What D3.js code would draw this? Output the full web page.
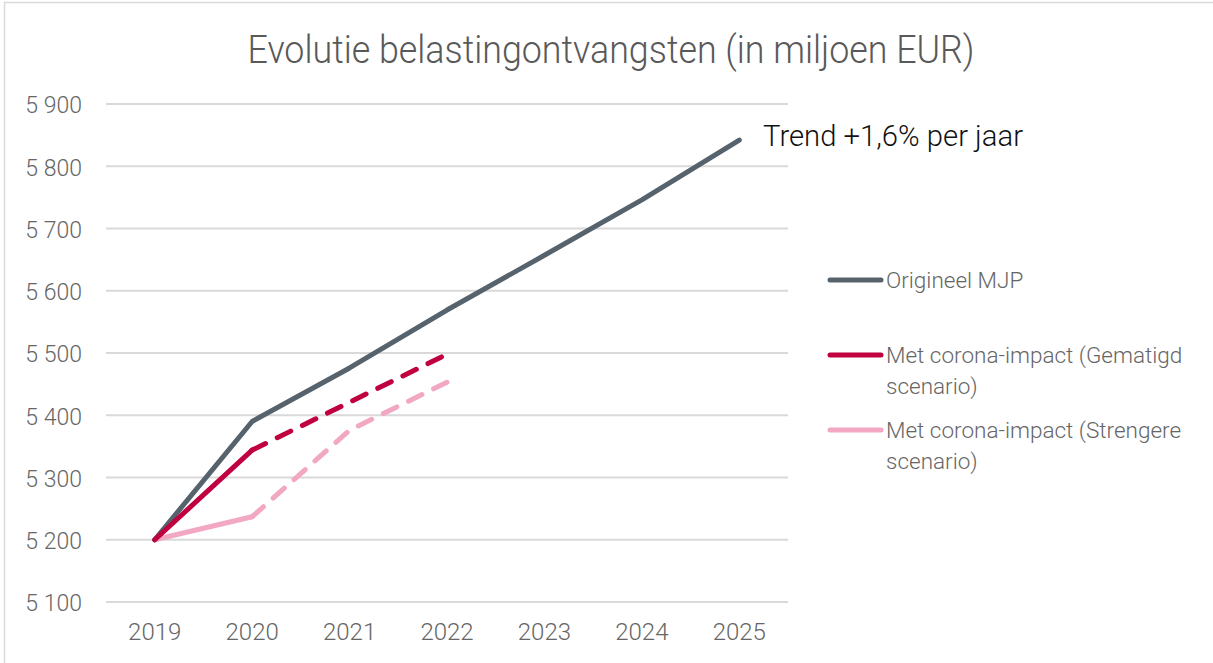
<!DOCTYPE html>
<html><head><meta charset="utf-8">
<script src="https://cdn.jsdelivr.net/npm/d3@7"></script>
<style>
html,body{margin:0;padding:0;background:#fff;}
svg{display:block;font-family:Roboto, "Open Sans", sans-serif;}
</style></head>
<body>
<svg id="chart" width="1213" height="663"></svg>
<script>
const years = ["2019","2020","2021","2022","2023","2024","2025"];
const yTicks = [5100,5200,5300,5400,5500,5600,5700,5800,5900];
const origineel = [5200,5390,5476,5569,5657,5746,5842];
const gematigd = [5200,5344,5421,5498];
const strengere = [5200,5237,5376,5453];
const seriesNames = ["Origineel MJP","Met corona-impact (Gematigd|scenario)","Met corona-impact (Strengere|scenario)"];
const seriesColors = ["#56626c","#c0003f","#f2a7c3"];
const title = "Evolutie belastingontvangsten (in miljoen EUR)";
const annotation = "Trend +1,6% per jaar";

const svg = d3.select("#chart");
// frame
svg.append("rect").attr("x",4.5).attr("y",2.5).attr("width",1230).attr("height",680)
  .attr("fill","none").attr("stroke","#d9d9d9").attr("stroke-width",1.5);

const x = d3.scaleBand().domain(years).range([106,788]);
const y = d3.scaleLinear().domain([5100,5900]).range([602,104]);

// gridlines
svg.append("g").selectAll("line").data(yTicks).join("line")
  .attr("x1",106).attr("x2",788).attr("y1",d=>y(d)).attr("y2",d=>y(d))
  .attr("stroke","#d9d9d9").attr("stroke-width",2);

// y axis
const fmt = d => d3.format(",")(d).replace(",", " ");
const yAxis = d3.axisLeft(y).tickValues(yTicks).tickFormat(fmt).tickSize(0).tickPadding(0);
const yg = svg.append("g").attr("transform","translate(82,0)").call(yAxis);
yg.select(".domain").remove();
yg.selectAll("text").attr("fill","#666").attr("font-size",23).attr("font-weight",300)
  .attr("font-family","Roboto, sans-serif").attr("dy","0.38em");

// x axis
const xAxis = d3.axisBottom(x).tickSize(0).tickPadding(0);
const xg = svg.append("g").attr("transform","translate(0,623)").call(xAxis);
xg.select(".domain").remove();
xg.selectAll("text").attr("fill","#666").attr("font-size",24).attr("font-weight",300)
  .attr("font-family","Roboto, sans-serif").attr("dy","0.71em");

const cx = d => x(d) + x.bandwidth()/2;
const line = d3.line().x(d=>cx(d[0])).y(d=>y(d[1]));

function seg(vals, i0, i1){ return d3.range(i0,i1+1).map(i=>[years[i],vals[i]]); }

const lw = 5;
// strengere
svg.append("path").attr("d",line(seg(strengere,0,1))).attr("fill","none").attr("stroke",seriesColors[2])
  .attr("stroke-width",lw).attr("stroke-linecap","round").attr("stroke-linejoin","round");
svg.append("path").attr("d",line(seg(strengere,1,3))).attr("fill","none").attr("stroke",seriesColors[2])
  .attr("stroke-width",lw).attr("stroke-linecap","round").attr("stroke-linejoin","round").attr("stroke-dasharray","15,13");
// origineel
svg.append("path").attr("d",line(seg(origineel,0,6))).attr("fill","none").attr("stroke",seriesColors[0])
  .attr("stroke-width",lw).attr("stroke-linecap","round").attr("stroke-linejoin","round");
// gematigd
svg.append("path").attr("d",line(seg(gematigd,0,1))).attr("fill","none").attr("stroke",seriesColors[1])
  .attr("stroke-width",lw).attr("stroke-linecap","round").attr("stroke-linejoin","round");
svg.append("path").attr("d",line(seg(gematigd,1,3))).attr("fill","none").attr("stroke",seriesColors[1])
  .attr("stroke-width",lw).attr("stroke-linecap","round").attr("stroke-linejoin","round").attr("stroke-dasharray","15,13");

// title
svg.append("text").attr("x",611).attr("y",63).attr("text-anchor","middle")
  .attr("font-size",38).attr("font-weight",300).attr("fill","#595959")
  .attr("textLength",727).attr("lengthAdjust","spacingAndGlyphs").text(title);

// annotation
svg.append("text").attr("x",763).attr("y",146).attr("font-size",29).attr("font-weight",300).attr("fill","#111")
  .attr("textLength",260).attr("lengthAdjust","spacingAndGlyphs").text(annotation);

// legend
const legY = [280,355,430];
const leg = svg.append("g");
seriesNames.forEach((name,i)=>{
  leg.append("line").attr("x1",830).attr("x2",881).attr("y1",legY[i]).attr("y2",legY[i])
    .attr("stroke",seriesColors[i]).attr("stroke-width",5).attr("stroke-linecap","round");
  const parts = name.split("|");
  parts.forEach((p,j)=>{
    leg.append("text").attr("x",886).attr("y",legY[i]+j*31).attr("dy","0.36em")
      .attr("font-size",22.5).attr("font-weight",300).attr("fill","#666").text(p);
  });
});
</script>
</body></html>
